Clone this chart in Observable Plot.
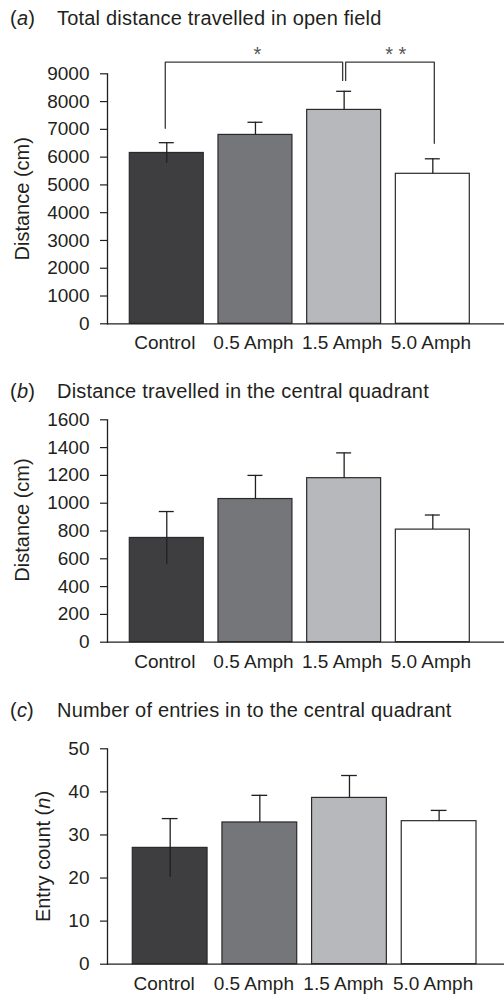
<!DOCTYPE html>
<html><head><meta charset="utf-8">
<script src="https://cdn.jsdelivr.net/npm/d3@7"></script>
<script src="https://cdn.jsdelivr.net/npm/@observablehq/plot@0.6"></script>
<style>
html,body{margin:0;padding:0;background:#fff;}
#root{position:relative;width:504px;height:994px;overflow:hidden;font-family:"Liberation Sans",Arial,sans-serif;color:#231f20;}
.title{position:absolute;left:0;width:504px;height:24px;font-size:20px;line-height:20px;white-space:nowrap;letter-spacing:0.2px;}
.title .tag{position:absolute;left:10px;top:0;}
.title .txt{position:absolute;left:57px;top:0;}
.panel{position:absolute;left:0;}
</style></head><body><div id="root"></div>
<script>
// ---- data ----
const groups = ["Control", "0.5 Amph", "1.5 Amph", "5.0 Amph"];
const fills = ["#3e3e41", "#75767a", "#b7b8bb", "#ffffff"];

const totalMean = [6150, 6800, 7700, 5400];
const totalSem = [370, 455, 670, 540];
const totalTicks = [0, 1000, 2000, 3000, 4000, 5000, 6000, 7000, 8000, 9000];

const centralMean = [750, 1030, 1180, 810];
const centralSem = [190, 170, 182, 105];
const centralTicks = [0, 200, 400, 600, 800, 1000, 1200, 1400, 1600];

const entriesMean = [27.0, 32.9, 38.6, 33.2];
const entriesSem = [6.8, 6.3, 5.2, 2.5];
const entriesTicks = [0, 10, 20, 30, 40, 50];

const panelTags = ["a", "b", "c"];
const panelTitles = [
  "Total distance travelled in open field",
  "Distance travelled in the central quadrant",
  "Number of entries in to the central quadrant"
];
const yLabels = ["Distance (cm)", "Distance (cm)", "Entry count (n)"];

// significance brackets (panel a): leg ends and bracket top in data units
const sigFrom = ["Control", "1.5 Amph"];
const sigTo = ["1.5 Amph", "5.0 Amph"];
const sigFromEnd = [7040, 8760];
const sigToEnd = [8760, 6500];
const sigTop = [9420, 9420];
const sigLabels = ["*", "* *"];
const sigLabelY = 9690;

// ---- drawing ----
const ink = "#231f20";
const font = '"Liberation Sans", Arial, sans-serif';
const root = document.getElementById("root");

function rowsOf(means, sems) {
  return groups.map((g, i) => ({
    group: g,
    mean: means[i],
    lo: i === 0 ? means[i] - sems[i] : means[i],
    hi: means[i] + sems[i]
  }));
}

function addTitle(idx, top) {
  const d = document.createElement("div");
  d.className = "title";
  d.style.top = top + "px";
  d.innerHTML = `<span class="tag">(<i>${panelTags[idx]}</i>)</span><span class="txt">${panelTitles[idx]}</span>`;
  root.appendChild(d);
}

function makePanel(opts) {
  const rows = rowsOf(opts.means, opts.sems);
  const marks = [
    Plot.barY(rows, {x: "group", y: "mean", fill: "group", stroke: "#2a2a2c", strokeWidth: 1.2}),
    Plot.ruleX(rows, {x: "group", y1: "lo", y2: "hi", stroke: ink, strokeWidth: 1.3}),
    Plot.tickY(rows, {x: "group", y: "hi", stroke: ink, strokeWidth: 1.3, insetLeft: 29.5, insetRight: 29.5}),
    Plot.frame({anchor: "left", stroke: ink, strokeWidth: 1.3}),
    Plot.frame({anchor: "bottom", stroke: ink, strokeWidth: 1.3}),
    Plot.axisY({ticks: opts.ticks, tickSize: 7, tickPadding: 11, fontSize: 19, label: null, tickFormat: d => String(d), strokeWidth: 1.2}),
    Plot.axisX({tickSize: 0, tickPadding: 12, fontSize: 19, label: null, dx: opts.labelDx || 0}),
    Plot.text([opts.yLabel], {text: d => d, frameAnchor: "left", rotate: -90, dx: opts.yLabelDx, dy: opts.yLabelDy || 0,
      fontSize: 20, lineAnchor: "middle", textAnchor: "middle", fill: ink})
  ];
  if (opts.extra) marks.push(...opts.extra);
  const svg = Plot.plot({
    width: 504,
    height: opts.height,
    marginLeft: 107,
    marginRight: 0,
    marginTop: opts.marginTop,
    marginBottom: opts.marginBottom,
    style: {fontFamily: font, color: ink, background: "none", overflow: "visible"},
    x: {type: "band", domain: groups, range: opts.xRange, paddingInner: 0.166, paddingOuter: 0, round: false, axis: null},
    y: {domain: opts.domain, axis: null},
    color: {type: "ordinal", domain: groups, range: fills},
    marks
  });
  svg.querySelectorAll("text").forEach(t => {
    if (t.textContent === "Entry count (n)") {
      t.innerHTML = 'Entry count (<tspan font-style="italic">n</tspan>)';
    }
  });
  const wrap = document.createElement("div");
  wrap.className = "panel";
  wrap.style.top = opts.top + "px";
  wrap.appendChild(svg);
  root.appendChild(wrap);
}

// Panel a
const brackets = sigFrom.map((f, i) => [
  {x: f, y: sigFromEnd[i]},
  {x: f, y: sigTop[i]},
  {x: sigTo[i], y: sigTop[i]},
  {x: sigTo[i], y: sigToEnd[i]}
]);
makePanel({
  top: 0, height: 360, marginTop: 73.3, marginBottom: 36.7,
  xRange: [129.3, 469.3], domain: [0, 9000], ticks: totalTicks,
  means: totalMean, sems: totalSem, yLabel: yLabels[0], yLabelDx: -85, labelDx: -2,
  extra: [
    Plot.line(brackets[0], {x: "x", y: "y", stroke: "#3a3a3a", strokeWidth: 1.3, dx: -1.5, curve: "linear"}),
    Plot.line(brackets[1], {x: "x", y: "y", stroke: "#3a3a3a", strokeWidth: 1.3, dx: 1.5, curve: "linear"}),
    Plot.text([sigLabels[0]], {x: () => "0.5 Amph", y: () => sigLabelY, text: d => d, dx: 2, fontSize: 20, fill: "#555", lineAnchor: "middle"}),
    Plot.text([sigLabels[1]], {x: () => "5.0 Amph", y: () => sigLabelY, text: d => d, dx: -37, fontSize: 20, fill: "#555", lineAnchor: "middle"})
  ]
});
addTitle(0, 8.1);

// Panel b
makePanel({
  top: 370, height: 310, marginTop: 49.3, marginBottom: 38.3,
  xRange: [129.3, 469.3], domain: [0, 1600], ticks: centralTicks,
  means: centralMean, sems: centralSem, yLabel: yLabels[1], yLabelDx: -85, yLabelDy: -11, labelDx: -2
});
addTitle(1, 381.1);

// Panel c
makePanel({
  top: 690, height: 304, marginTop: 58.3, marginBottom: 30.3,
  xRange: [132.3, 476], domain: [0, 50], ticks: entriesTicks,
  means: entriesMean, sems: entriesSem, yLabel: yLabels[2], yLabelDx: -64, labelDx: -6
});
addTitle(2, 700.1);
</script></body></html>
